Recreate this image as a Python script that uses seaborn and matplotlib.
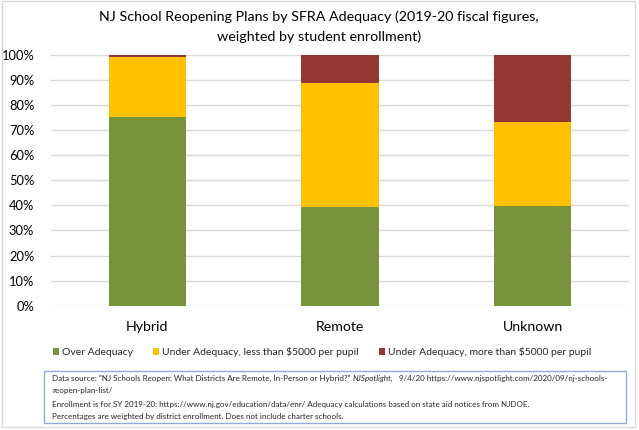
import matplotlib
matplotlib.use("Agg")
import matplotlib.pyplot as plt
import seaborn as sns
import pandas as pd
import numpy as np
from matplotlib.patches import Rectangle, Patch

# ---- data (percent of enrollment) ----
categories = ["Hybrid", "Remote", "Unknown"]
over_adequacy = [75.3, 39.2, 39.8]
under_less_5000 = [23.9, 49.5, 33.4]
under_more_5000 = [0.8, 11.3, 26.8]
series_names = ["Over Adequacy",
                "Under Adequacy, less than $5000 per pupil",
                "Under Adequacy, more than $5000 per pupil"]
y_ticks = [0, 10, 20, 30, 40, 50, 60, 70, 80, 90, 100]
y_tick_labels = [f"{t}%" for t in y_ticks]

colors = ["#77933C", "#FFC000", "#953735"]

sns.set_theme(style="white")
FONT = ["Lato", "DejaVu Sans"]
plt.rcParams["font.family"] = FONT

fig = plt.figure(figsize=(6.39, 4.30), dpi=100)
ax = fig.add_axes([51/639, 1-305.7/430, (629-51)/639, (305.7-55)/430])

df = pd.DataFrame({"cat": categories,
                   "s1": over_adequacy,
                   "s2": under_less_5000,
                   "s3": under_more_5000})
df["c1"] = df["s1"]
df["c2"] = df["s1"] + df["s2"]
df["c3"] = df["c2"] + df["s3"]

for col, c in zip(["c3", "c2", "c1"], colors[::-1]):
    sns.barplot(data=df, x="cat", y=col, color=c, width=0.4, ax=ax,
                saturation=1, edgecolor="none", linewidth=0, zorder=3)

ax.set_ylim(0, 100)
ax.set_xlim(-0.5, 2.5)
ax.set_yticks(y_ticks)
ax.set_yticklabels(y_tick_labels)
ax.yaxis.grid(True, color="#D9D9D9", linewidth=1.0, zorder=0)
ax.set_axisbelow(True)
for s in ax.spines.values():
    s.set_visible(False)
ax.tick_params(axis="y", length=0, pad=12, labelsize=9.3, labelcolor="#000000")
ax.tick_params(axis="x", length=0, pad=11, labelsize=10.2, labelcolor="#000000")
ax.set_xlabel("")
ax.set_ylabel("")

fig.text(319/639, 1-17/430, "NJ School Reopening Plans by SFRA Adequacy (2019-20 fiscal figures,",
         ha="center", va="center", fontsize=10.3, color="#000000")
fig.text(319/639, 1-36.5/430, "weighted by student enrollment)",
         ha="center", va="center", fontsize=10.3, color="#000000")

handles = [Patch(facecolor=c, edgecolor="none") for c in colors]
fig.legend(handles, series_names, loc="center", bbox_to_anchor=(322/639, 1-352/430),
           ncol=3, frameon=False, fontsize=7.5, handlelength=0.6, handleheight=0.6,
           handletextpad=0.3, columnspacing=1.9, borderpad=0)

# figure frame
fig.patches.append(Rectangle((2/639, 3/430), (635-2)/639, (429-3)/430, transform=fig.transFigure,
                             fill=False, edgecolor="#D9D9D9", linewidth=1))
# footnote box
fig.patches.append(Rectangle((44/639, 1-423/430), (626-44)/639, (423-371)/430,
                             transform=fig.transFigure, fill=False,
                             edgecolor="#8FAADC", linewidth=1))

fs = 5.75
x0 = 52/639
fig.canvas.draw()
r = fig.canvas.get_renderer()
t1 = fig.text(x0, 1-378/430, 'Data source: "NJ Schools Reopen: What Districts Are Remote, In-Person or Hybrid?" ',
              ha="left", va="center", fontsize=fs)
bb = t1.get_window_extent(r)
x1 = bb.x1 / fig.bbox.width
t2 = fig.text(x1, 1-378/430, "NJSpotlight,", ha="left", va="center", fontsize=fs, style="italic")
bb2 = t2.get_window_extent(r)
x2 = bb2.x1 / fig.bbox.width
fig.text(x2, 1-378/430, "   9/4/20 https://www.njspotlight.com/2020/09/nj-schools-",
         ha="left", va="center", fontsize=fs)
fig.text(x0, 1-391/430, "reopen-plan-list/", ha="left", va="center", fontsize=fs)
fig.text(x0, 1-404/430, "Enrollment is for SY 2019-20: https://www.nj.gov/education/data/enr/ Adequacy calculations based on state aid notices from NJDOE.",
         ha="left", va="center", fontsize=fs)
fig.text(x0, 1-416/430, "Percentages are weighted by district enrollment. Does not include charter schools.",
         ha="left", va="center", fontsize=fs)

fig.savefig("out.png", dpi=100)
